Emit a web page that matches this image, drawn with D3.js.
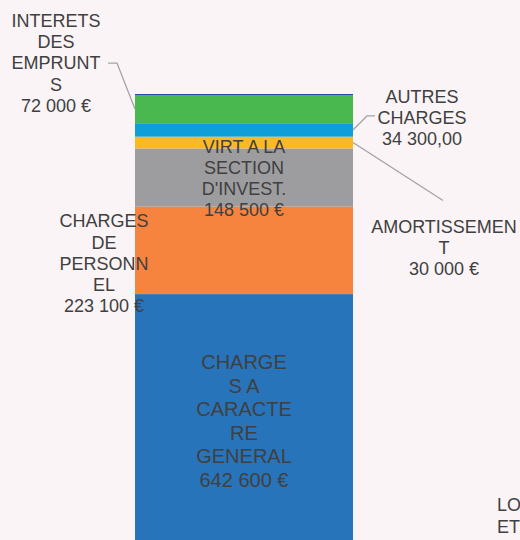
<!DOCTYPE html>
<html>
<head>
<meta charset="utf-8">
<script src="https://cdn.jsdelivr.net/npm/d3@7"></script>
<style>
  html, body { margin: 0; padding: 0; background: #faf4f6; overflow: hidden; }
  svg { display: block; font-family: "Liberation Sans", Arial, sans-serif; }
</style>
</head>
<body>
<svg></svg>
<script>
// stacked from bottom to top
let categories = ["CHARGES A CARACTERE GENERAL", "CHARGES DE PERSONNEL",
    "VIRT A LA SECTION D'INVEST.", "AMORTISSEMENT", "AUTRES CHARGES",
    "INTERETS DES EMPRUNTS", "LO ET"]
let values = [642600, 223100, 148500, 30000, 34300, 72000, 2500]
let valueLabels = ["642 600 €", "223 100 €", "148 500 €", "30 000 €", "34 300,00", "72 000 €", ""]
let labelLines = [
    ["CHARGE", "S A", "CARACTE", "RE", "GENERAL"],
    ["CHARGES", "DE", "PERSONN", "EL"],
    ["VIRT A LA", "SECTION", "D'INVEST."],
    ["AMORTISSEMEN", "T"],
    ["AUTRES", "CHARGES"],
    ["INTERETS", "DES", "EMPRUNT", "S"],
    ["LO", "ET"]
]
let colors = ["#2874ba", "#f6843f", "#9d9d9f", "#fdb924", "#0e9fd8", "#49b84f", "#1f4e9a"]

var width = 520, height = 540

var svg = d3.select("svg")
    .attr("width", width)
    .attr("height", height)

// label placement: x centre, offset of first baseline from segment middle, font size, line height, anchor
let labelPos = [
    {x: 244, dy: -51, size: 20, lh: 23.6, anchor: "middle"},
    {x: 104, dy: -23, size: 18, lh: 21.2, anchor: "middle"},
    {x: 244, dy: -25, size: 18, lh: 21, anchor: "middle"},
    {x: 444, dy: 90, size: 18, lh: 21, anchor: "middle"},
    {x: 422, dy: -27, size: 18, lh: 21, anchor: "middle"},
    {x: 56, dy: -82, size: 18, lh: 21.2, anchor: "middle"},
    {x: 497, dy: 417, size: 18, lh: 21.5, anchor: "start"}
]

// stack the values
let stackData = []
let acc = 0
values.forEach((v, i) => {
    stackData.push({i: i, y0: acc, y1: acc + v})
    acc += v
})

let scX = d3.scaleBand()
    .domain(["total"])
    .range([135, 353])
    .padding(0)

let scY = d3.scaleLinear()
    .domain([0, d3.sum(values)])
    .range([546, 94])

let x0 = scX("total"), x1 = x0 + scX.bandwidth()

svg.append("g").selectAll("rect")
    .data(stackData).enter().append("rect")
    .attr("x", x0)
    .attr("width", scX.bandwidth())
    .attr("y", d => scY(d.y1))
    .attr("height", d => scY(d.y0) - scY(d.y1))
    .attr("fill", d => colors[d.i])

let mid = d => (scY(d.y0) + scY(d.y1)) / 2

// leader lines (green, light blue, yellow)
let leaders = {
    5: d => [[x0, mid(d)], [x0 - 18, mid(d) - 46], [x0 - 27, mid(d) - 46]],
    4: d => [[x1, mid(d)], [x1 + 14, mid(d) - 14], [x1 + 22, mid(d) - 14]],
    3: d => [[x1, mid(d)], [x1 + 90, mid(d) + 58]]
}
let line = d3.line()
Object.keys(leaders).forEach(k => {
    let d = stackData[+k]
    svg.append("path")
        .attr("d", line(leaders[k](d)))
        .attr("fill", "none")
        .attr("stroke", "#a3a3a3")
        .attr("stroke-width", 1.3)
})

// labels
stackData.forEach(d => {
    let p = labelPos[d.i]
    let lines = labelLines[d.i].slice()
    if (valueLabels[d.i]) lines.push(valueLabels[d.i])
    let t = svg.append("text")
        .attr("text-anchor", p.anchor)
        .attr("font-size", p.size)
        .attr("fill", "#404040")
    lines.forEach((s, j) => {
        t.append("tspan")
            .attr("x", p.x)
            .attr("y", mid(d) + p.dy + j * p.lh)
            .text(s)
    })
})
</script>
</body>
</html>
